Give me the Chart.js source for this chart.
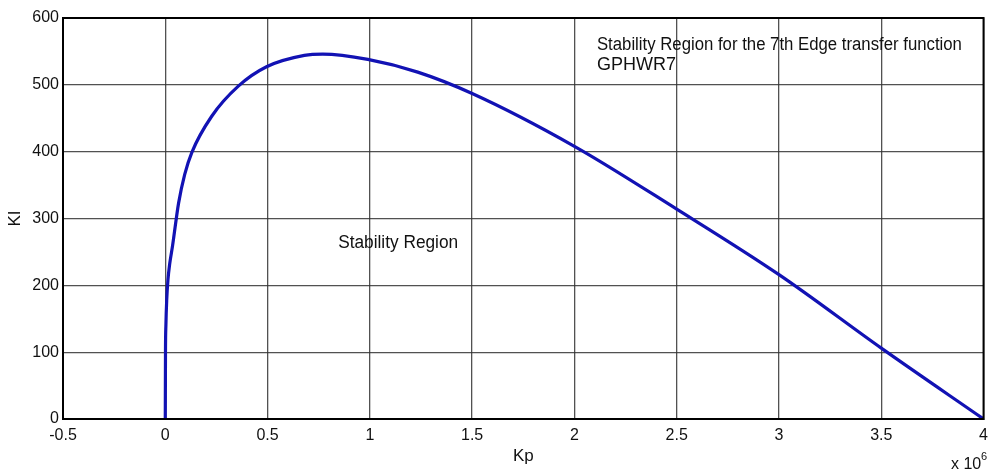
<!DOCTYPE html>
<html>
<head>
<meta charset="utf-8">
<script src="https://cdn.jsdelivr.net/npm/chart.js@4"></script>
<style>
  body { margin: 0; background: #fff; }
  canvas { display: block; }
</style>
</head>
<body>
<canvas id="myChart" width="995" height="475"></canvas>
<script>
// stability boundary, Kp in units of 1e6
let kpValues = [0, 0.001, 0.003, 0.007, 0.013, 0.022, 0.035, 0.065, 0.095, 0.13, 0.227, 0.357, 0.495, 0.68, 0.77, 0.99, 1.234, 1.5, 2.0, 2.5, 3.0, 3.5, 4.0];
let kiValues = [0, 100, 140, 178, 208, 233, 258, 323, 366, 399, 453, 498, 527, 544, 546, 538, 519, 487, 408, 314, 216, 106, 0];

let xTicks = [-0.5, 0, 0.5, 1, 1.5, 2, 2.5, 3, 3.5, 4];
let yTicks = [0, 100, 200, 300, 400, 500, 600];

let titleLine1 = "Stability Region for the 7th Edge transfer function";
let titleLine2 = "GPHWR7";
let regionLabel = "Stability Region";

let ctx = document.getElementById("myChart");

let points = kpValues.map((kp, i) => ({ x: kp, y: kiValues[i] }));

const fontFamily = "'Liberation Sans', Arial, sans-serif";

// frame, axis titles and in-plot notes
let decorations = {
  id: "decorations",
  afterDraw: (chart) => {
    let c = chart.ctx;
    let area = chart.chartArea;
    let xs = chart.scales.x;
    let ys = chart.scales.y;
    c.save();

    c.strokeStyle = "#000";
    c.lineWidth = 2;
    c.strokeRect(area.left, area.top, area.right - area.left, area.bottom - area.top);

    c.fillStyle = "#111";
    c.font = "18px " + fontFamily;
    c.textBaseline = "middle";
    c.textAlign = "left";
    c.fillText(titleLine1, xs.getPixelForValue(2.11), ys.getPixelForValue(560), 365);
    c.fillText(titleLine2, xs.getPixelForValue(2.11), ys.getPixelForValue(530), 80);
    c.fillText(regionLabel, xs.getPixelForValue(0.845), ys.getPixelForValue(264), 120);

    // axis titles
    c.font = "17px " + fontFamily;
    c.textAlign = "center";
    c.fillText("Kp", (area.left + area.right) / 2, 456);

    c.font = "16px " + fontFamily;
    c.textAlign = "left";
    c.fillText("x 10", 951, 465);
    c.font = "11px " + fontFamily;
    c.fillText("6", 981, 457);

    c.font = "17px " + fontFamily;
    c.translate(15, (area.top + area.bottom) / 2);
    c.rotate(-Math.PI / 2);
    c.textAlign = "center";
    c.fillText("KI", 0, 0);

    c.restore();
  }
};

let myChart = new Chart(ctx, {
  type: "scatter",
  data: {
    datasets: [{
      label: "Stability boundary",
      data: points,
      showLine: true,
      borderColor: "#1212b4",
      borderWidth: 3.2,
      pointRadius: 0,
      cubicInterpolationMode: "monotone",
      fill: false
    }]
  },
  options: {
    responsive: false,
    animation: false,
    layout: { padding: { left: 0, top: 18, right: 8, bottom: 0 } },
    plugins: {
      legend: { display: false },
      tooltip: { enabled: false }
    },
    scales: {
      x: {
        type: "linear",
        min: -0.5,
        max: 4,
        afterBuildTicks: (scale) => { scale.ticks = xTicks.map(v => ({ value: v })); },
        afterFit: (scale) => { scale.height = 56; },
        grid: { color: "rgba(50,50,50,0.85)", lineWidth: 1.3, drawTicks: false },
        border: { color: "#000", width: 2 },
        ticks: {
          padding: 7,
          color: "#111",
          font: { family: fontFamily, size: 16 },
          maxRotation: 0,
          callback: (v) => String(Math.round(v * 10) / 10)
        }
      },
      y: {
        type: "linear",
        min: 0,
        max: 600,
        afterBuildTicks: (scale) => { scale.ticks = yTicks.map(v => ({ value: v })); },
        afterFit: (scale) => { scale.width = 63; },
        grid: { color: "rgba(50,50,50,0.85)", lineWidth: 1.3, drawTicks: false },
        border: { color: "#000", width: 2 },
        ticks: {
          padding: 4,
          color: "#111",
          font: { family: fontFamily, size: 16 }
        }
      }
    }
  },
  plugins: [decorations]
});
</script>
</body>
</html>
